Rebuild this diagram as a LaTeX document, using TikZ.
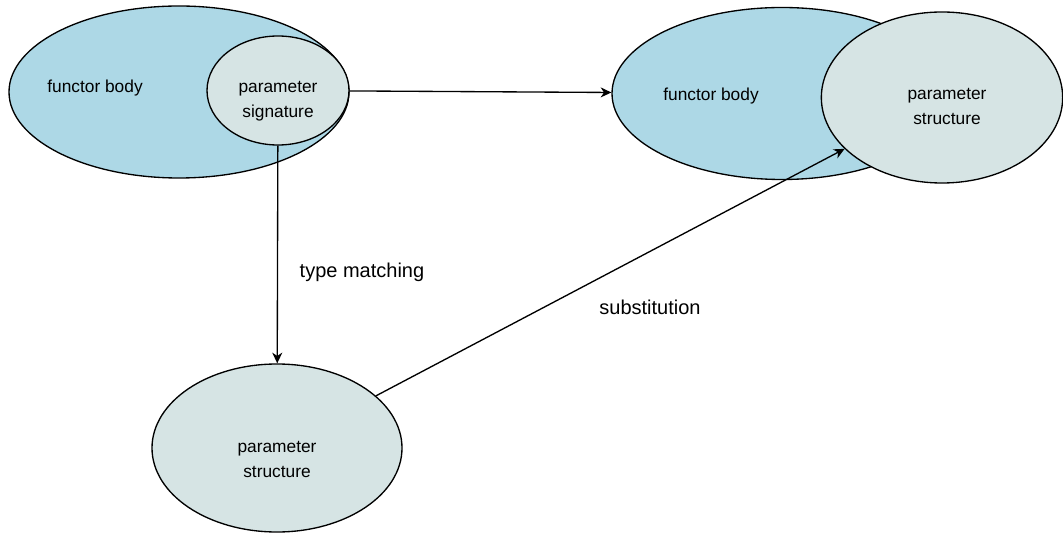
\documentclass[tikz,border=0pt]{standalone}
\usepackage{fontspec}
\setmainfont{Liberation Sans}
\usetikzlibrary{shapes.geometric,arrows.meta}
\definecolor{bodyblue}{RGB}{173,216,230}
\definecolor{paramgrey}{RGB}{214,228,228}
\tikzset{
  blob/.style={ellipse, draw=black, line width=1pt, inner sep=0pt},
  bodyblob/.style={blob, fill=bodyblue, minimum width=255pt, minimum height=129pt},
  paramblob/.style={blob, fill=paramgrey},
  txt/.style={font=\fontsize{13}{18.75}\selectfont, align=center, inner sep=0pt},
  edgetxt/.style={font=\fontsize{15}{18.5}\selectfont, inner sep=0pt},
  flow/.style={line width=1pt, -{Stealth[length=8pt, width=7.5pt, inset=2.5pt]}}
}
\begin{document}
\begin{tikzpicture}[x=0.75pt, y=-0.75pt]
  \useasboundingbox (0,0) rectangle (1063,534);
  \clip (0,0) rectangle (1063,534);

  % functor before instantiation
  \node[bodyblob] (body1) at (179,92) {};
  \node[paramblob, minimum width=106.5pt, minimum height=81.75pt] (sig) at (278,90.5) {};
  \node[txt] (body1txt) at (95,88) {functor body};
  \node[txt] (sigtxt) at (278,101) {parameter\\signature};

  % functor after substitution
  \node[bodyblob] (body2) at (782,93.5) {};
  \node[paramblob, minimum width=181pt, minimum height=128.25pt] (struct2) at (942,97.5) {};
  \node[txt] (body2txt) at (711,96) {functor body};
  \node[txt] (struct2txt) at (947,106) {parameter\\structure};

  % actual parameter structure
  \node[paramblob, minimum width=187.5pt, minimum height=126pt] (struct1) at (277,448) {};
  \node[txt] (struct1txt) at (277,459) {parameter\\structure};

  % connectors
  \draw[flow] (sig) -- (body2);
  \draw[flow] (sig) -- (struct1);
  \draw[flow] (struct1) -- (struct2);

  % connector labels
  \node[edgetxt] (match) at (362,272) {type matching};
  \node[edgetxt] (subst) at (650,307) {substitution};
\end{tikzpicture}
\end{document}
